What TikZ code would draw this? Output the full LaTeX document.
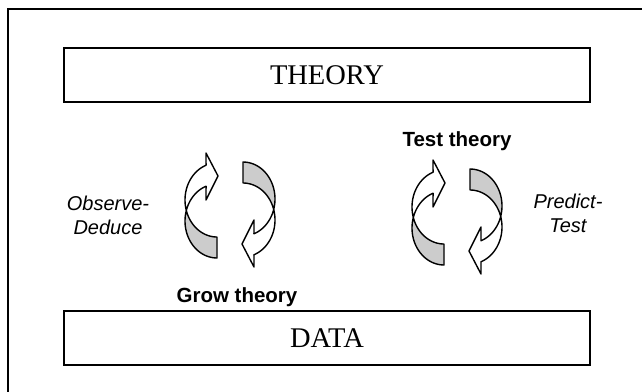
\documentclass[tikz,border=0pt]{standalone}
\usepackage{fontspec}
\setmainfont{Liberation Serif}
\setsansfont{Liberation Sans}
\usetikzlibrary{positioning}

\tikzset{
  level/.style={draw, line width=2pt, minimum width=526pt, minimum height=54pt,
    inner sep=0pt, font=\fontsize{28.5}{32}\selectfont},
  looplabel/.style={font=\sffamily\itshape\fontsize{20}{24}\selectfont, align=center},
  phaselabel/.style={font=\sffamily\bfseries\fontsize{20.5}{24}\selectfont},
  halfcycle/.pic={
    \filldraw[fill=black!20, line width=1.4pt, line join=round]
      plot[domain=90:163.5, samples=30] ({-13+32*cos(\x)},{-10+37*sin(\x)})
      -- plot[domain=196.5:90, samples=30] ({-13+32*cos(\x)},{11+37*sin(\x)}) -- cycle;
    \filldraw[fill=white, line width=1.4pt, line join=round]
      plot[domain=163.5:250, samples=30] ({-13+32*cos(\x)},{-10+37*sin(\x)})
      -- (-24,-57) -- (-12,-34) -- (-24,-10)
      -- plot[domain=250:196.5, samples=30] ({-13+32*cos(\x)},{11+37*sin(\x)}) -- cycle;
  }
}

\begin{document}
\begin{tikzpicture}[x=1pt, y=-1pt]
  \useasboundingbox (0,0) rectangle (642,391);
  \draw[line width=2.4pt] (8,400) |- (650,9);

  \node[level] (theory) at (327,75) {THEORY};
  \node[level, below=207pt of theory] (data) {DATA};

  \coordinate (grow) at (230,210);
  \coordinate (test) at (457,217);
  \pic at (grow) {halfcycle};
  \pic[rotate=180] at (grow) {halfcycle};
  \pic at (test) {halfcycle};
  \pic[rotate=180] at (test) {halfcycle};

  \node[phaselabel, anchor=base] (growlabel) at (237,302) {Grow theory};
  \node[phaselabel, anchor=base] (testlabel) at (457,146) {Test theory};
  \node[looplabel] (observe) at (108,215) {Observe-\\Deduce};
  \node[looplabel] (predict) at (568,213) {Predict-\\Test};
\end{tikzpicture}
\end{document}
